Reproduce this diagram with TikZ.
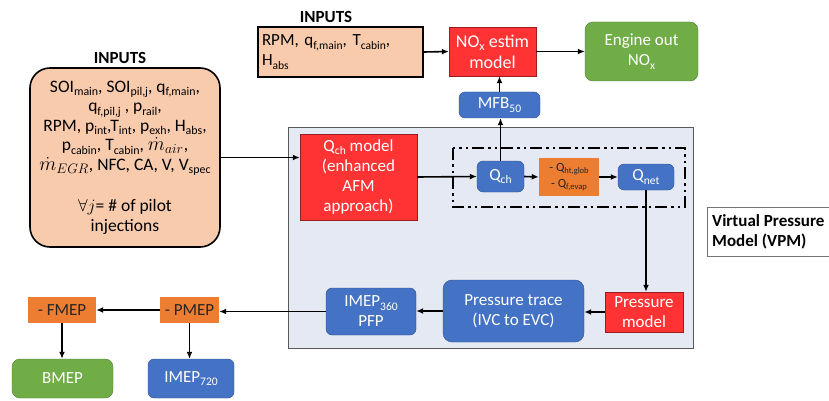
\documentclass[tikz,border=0pt]{standalone}
\usepackage{fontspec}
\setmainfont{Carlito}
\usetikzlibrary{arrows.meta}
\definecolor{peach}{RGB}{248,203,173}
\definecolor{boxred}{RGB}{255,51,51}
\definecolor{boxblue}{RGB}{68,114,196}
\definecolor{boxgreen}{RGB}{112,173,71}
\definecolor{boxorange}{RGB}{237,125,49}
\definecolor{vpmfill}{RGB}{229,233,243}
\makeatletter
\newcommand{\sbs}[1]{\raisebox{-0.2em}{\fontsize{\strip@pt\dimexpr0.68\dimexpr\f@size pt\relax\relax}{0}\selectfont #1}}
\makeatother
\newcommand{\mdot}[1]{\scalebox{1.15}{$\dot m_{#1}$}}
\begin{document}
\begin{tikzpicture}[x=1pt, y=-1pt,
  every node/.style={font=\fontsize{17}{20}\selectfont, align=center, inner sep=2pt},
  arr/.style={-{Latex[length=7pt,width=6pt]}, line width=1.6pt},
  redbox/.style={draw=boxred!60!black, fill=boxred, text=white},
  bluebox/.style={draw=boxblue!70!black, fill=boxblue, text=white, rounded corners=6pt},
  greenbox/.style={draw=boxgreen!70!black, fill=boxgreen, text=white, rounded corners=8pt},
  orangebox/.style={fill=boxorange, text=black!85},
  inbox/.style={draw, line width=1.6pt, fill=peach},
  title/.style={font=\fontsize{17}{20}\selectfont\bfseries}]
  \useasboundingbox (0,0) rectangle (829,401);
  % Virtual pressure model area
  \fill[vpmfill] (288,127) rectangle (693,348);
  \draw[black!65] (288,127) rectangle (693,348);
  \draw[line width=2.2pt, dash pattern=on 12pt off 4pt on 2.5pt off 4pt on 2.5pt off 4pt] (453,148) rectangle (685,207);
  % Inputs
  \node[title] (inTitle) at (120,58) {INPUTS};
  \node[inbox, rounded corners=20pt, minimum width=190pt, minimum height=179pt,
        font=\fontsize{17.5}{19.5}\selectfont] (inputs) at (125,157.5)
    {SOI\sbs{main}, SOI\sbs{pil,j}, q\sbs{f,main},\\
     q\sbs{f,pil,j} , p\sbs{rail},\\
     RPM, p\sbs{int},T\sbs{int}, p\sbs{exh}, H\sbs{abs},\\
     p\sbs{cabin}, T\sbs{cabin}, \mdot{air},\\
     \mdot{EGR}, NFC, CA, V, V\sbs{spec}\\[22pt]
     $\forall j$= \# of pilot\\ injections};
  \node[title] (topTitle) at (326,17) {INPUTS};
  \node[inbox, minimum width=165pt, minimum height=50pt, text width=157pt, align=left] (topIn) at (340.5,52)
    {RPM, q\sbs{f,main}, T\sbs{cabin},\\ H\sbs{abs}};
  % NOx branch
  \node[redbox, minimum width=87pt, minimum height=49pt, font=\fontsize{18}{21}\selectfont] (nox) at (492.5,51.5) {NO\sbs{x} estim\\ model};
  \node[greenbox, minimum width=113pt, minimum height=59pt] (engine) at (641.5,51.5) {Engine out\\ NO\sbs{x}};
  \node[bluebox, minimum width=81pt, minimum height=26pt] (mfb) at (499.5,105) {MFB\sbs{50}};
  % Heat release chain
  \node[redbox, minimum width=117pt, minimum height=86pt] (qchm) at (358.5,177) {Q\sbs{ch} model\\ (enhanced\\ AFM\\ approach)};
  \node[bluebox, minimum width=47pt, minimum height=31pt] (qch) at (500.5,176.5) {Q\sbs{ch}};
  \node[orangebox, minimum width=60pt, minimum height=38pt, font=\fontsize{12.5}{16}\selectfont] (qloss) at (569,177) {- Q\sbs{ht,glob}\\ - Q\sbs{f,evap}};
  \node[bluebox, minimum width=56pt, minimum height=26pt] (qnet) at (646,177) {Q\sbs{net}};
  % Pressure chain
  \node[redbox, minimum width=78pt, minimum height=40pt] (pmodel) at (644,312) {Pressure\\ model};
  \node[bluebox, minimum width=141pt, minimum height=62pt, rounded corners=9pt] (ptrace) at (513.5,311) {Pressure trace\\ (IVC to EVC)};
  \node[bluebox, minimum width=90pt, minimum height=47pt] (imep360) at (371,311.5) {IMEP\sbs{360}\\ PFP};
  \node[orangebox, minimum width=59pt, minimum height=26pt] (pmep) at (189.5,310) {- PMEP};
  \node[orangebox, minimum width=68pt, minimum height=26pt] (fmep) at (62,310) {- FMEP};
  \node[greenbox, minimum width=101pt, minimum height=39pt] (bmep) at (62.5,378.5) {BMEP};
  \node[bluebox, minimum width=86pt, minimum height=39pt] (imep720) at (191,378.5) {IMEP\sbs{720}};
  % VPM label
  \node[title, align=left, anchor=west] (vpmLabel) at (710,231.5) {Virtual Pressure\\ Model (VPM)};
  \draw[black!55] (829,207) -| (707,256) -- (829,256);
  % Connectors
  \draw[arr] (inputs.east) -- (inputs.east -| qchm.west);
  \draw[arr] (topIn.east) -- (nox.west);
  \draw[arr] (nox.east) -- (engine.west);
  \draw[arr] (mfb.north) -- (mfb.north |- nox.south);
  \draw[arr] (qch.north) -- (qch.north |- mfb.south);
  \draw[arr] (qchm.east) -- (qch.west);
  \draw[arr] (qch.east) -- (qloss.west);
  \draw[arr] (qloss.east) -- (qnet.west);
  \draw[arr] (qnet.south) -- (qnet.south |- pmodel.north);
  \draw[arr] (pmodel.west) -- (pmodel.west -| ptrace.east);
  \draw[arr] (ptrace.west) -- (ptrace.west -| imep360.east);
  \draw[arr] (imep360.west) -- (imep360.west -| pmep.east);
  \draw[arr] (pmep.west) -- (fmep.east);
  \draw[arr] (fmep.south) -- (fmep.south |- bmep.north);
  \draw[arr] (pmep.south) -- (pmep.south |- imep720.north);
\end{tikzpicture}
\end{document}
